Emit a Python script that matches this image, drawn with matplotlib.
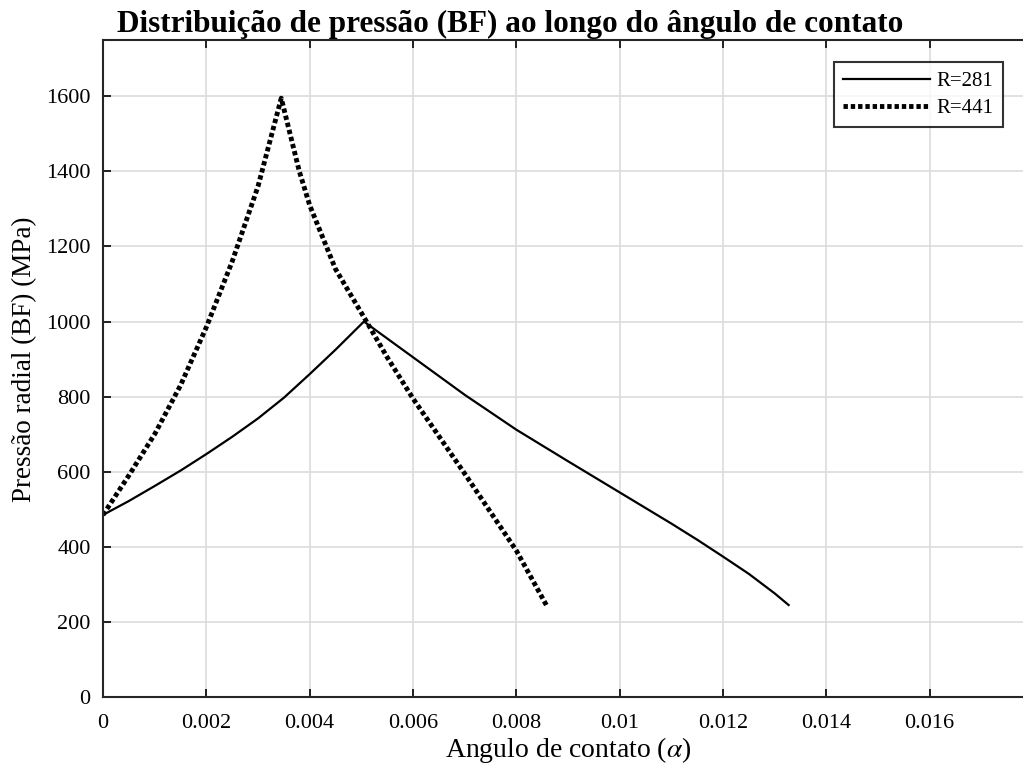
import matplotlib.pyplot as plt

plt.rcParams["font.family"] = ["Liberation Serif", "DejaVu Serif"]
plt.rcParams["mathtext.fontset"] = "stix"

# R=281 (linha continua)
x_281 = [0, 0.0005, 0.001, 0.0015, 0.002, 0.0025, 0.003, 0.0035, 0.004, 0.0045, 0.00505,
         0.006, 0.007, 0.008, 0.009, 0.010, 0.011, 0.0115, 0.012, 0.0125, 0.013, 0.01327]
p_281 = [485, 522, 562, 603, 647, 693, 742, 797, 860, 925, 1000,
         905, 805, 712, 628, 545, 462, 419, 374, 328, 276, 245]

# R=441 (linha pontilhada)
x_441 = [0, 0.0005, 0.001, 0.0015, 0.002, 0.0025, 0.003, 0.00345,
         0.0038, 0.004, 0.0045, 0.0051, 0.0055, 0.006, 0.007, 0.008, 0.0086]
p_441 = [485, 590, 700, 830, 985, 1160, 1360, 1595,
         1400, 1310, 1140, 1000, 905, 795, 595, 390, 240]

xticks = [0, 0.002, 0.004, 0.006, 0.008, 0.01, 0.012, 0.014, 0.016]
xtick_labels = ["0", "0.002", "0.004", "0.006", "0.008", "0.01", "0.012", "0.014", "0.016"]
yticks = [0, 200, 400, 600, 800, 1000, 1200, 1400, 1600]

fig = plt.figure(figsize=(10.23, 7.71), dpi=100)
ax = fig.add_axes([103 / 1023, 74 / 771, (1033 - 103) / 1023, (697 - 40) / 771])

ax.plot(x_281, p_281, color="black", linewidth=1.6, label="R=281")
ax.plot(x_441, p_441, color="black", linewidth=3.5, linestyle=(0, (0.9, 0.6)),
        dash_capstyle="butt", label="R=441")

ax.set_xlim(0, 0.018)
ax.set_ylim(0, 1750)
ax.set_xticks(xticks)
ax.set_xticklabels(xtick_labels)
ax.set_yticks(yticks)
ax.tick_params(direction="in", length=6, width=1.2, labelsize=16, top=True, right=True)
ax.tick_params(axis="x", pad=12)
ax.tick_params(axis="y", pad=9)
ax.grid(True, color="#dcdcdc", linewidth=1.2)
ax.set_axisbelow(True)
for s in ax.spines.values():
    s.set_linewidth(1.5)
    s.set_color("#262626")

ax.set_xlabel(r"Angulo de contato ($\alpha$)", fontsize=20, labelpad=2)
# rotulo do eixo y posicionado na figura
fig.text(25 / 1023, 1 - 359 / 771, "Pressão radial (BF) (MPa)", fontsize=19.5,
         rotation=90, ha="center", va="center")
ax.set_title("Distribuição de pressão (BF) ao longo do ângulo de contato",
             fontsize=22.5, fontweight="bold", pad=6, x=(510 - 103) / 930)

leg = ax.legend(loc="upper right", bbox_to_anchor=((1003 - 103) / 930, (697 - 62) / 657),
                fontsize=15, frameon=True, fancybox=False, handlelength=4.2,
                borderpad=0.45, labelspacing=0.35, handletextpad=0.3, borderaxespad=0)
leg.get_frame().set_edgecolor("black")
leg.get_frame().set_linewidth(1.5)

fig.savefig("out.png", dpi=100)
